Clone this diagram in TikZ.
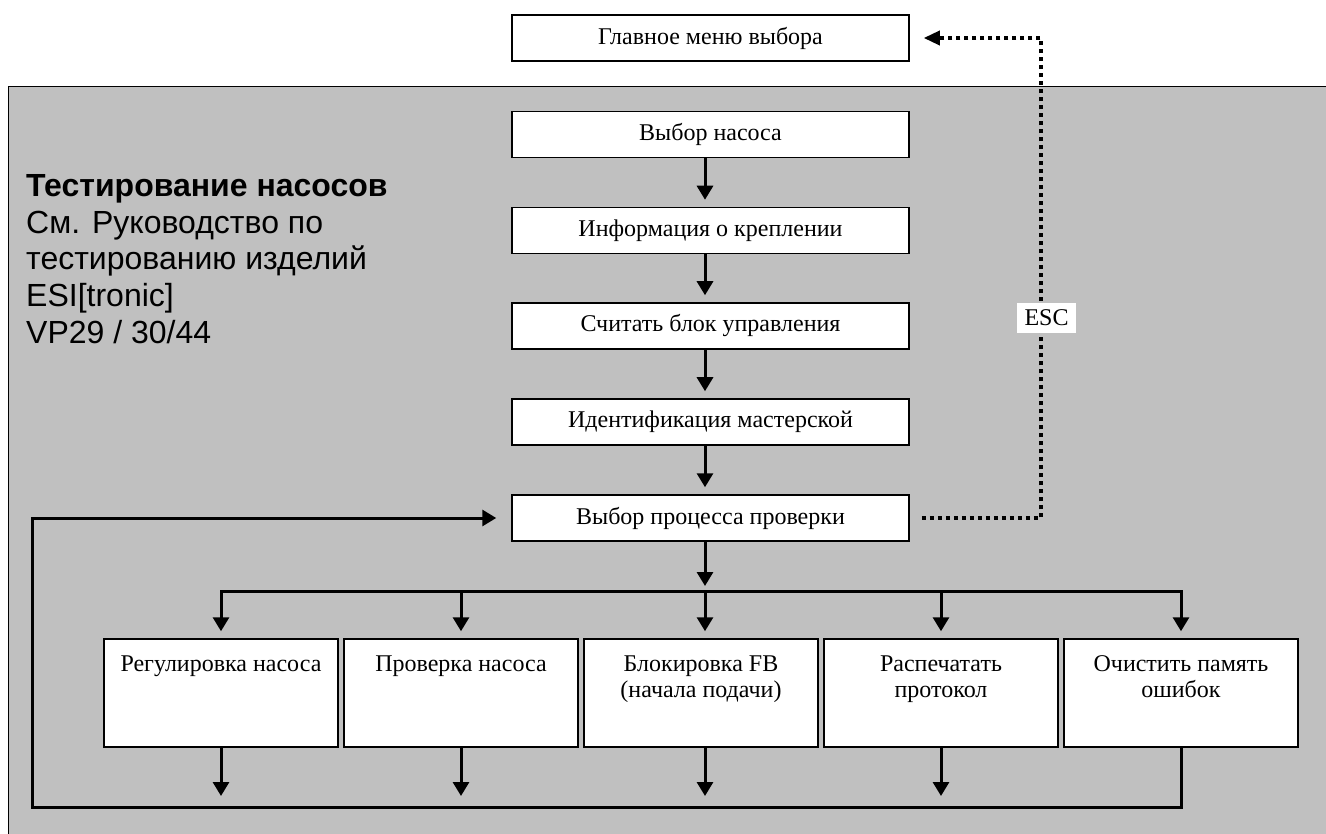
\documentclass[tikz,border=0pt]{standalone}
\usepackage{fontspec}
\setmainfont{Liberation Serif}
\newfontfamily\arialf{Liberation Sans}
\usetikzlibrary{arrows.meta,calc}
\definecolor{panelgray}{RGB}{192,192,192}
\begin{document}
\begin{tikzpicture}[x=1pt,y=-1pt,
  mbox/.style={draw=black,line width=1.5pt,fill=white,minimum width=397pt,minimum height=46pt,inner sep=0pt,font=\fontsize{24}{27}\selectfont},
  sbox/.style={draw=black,line width=1.5pt,fill=white,minimum width=234pt,minimum height=108pt,inner sep=0pt},
  stext/.style={anchor=north,align=center,inner sep=0pt,font=\fontsize{24}{26.5}\selectfont},
  flow/.style={line width=3pt,-{Triangle[width=16pt,length=14pt]}},
  flowline/.style={line width=3pt},
  escline/.style={line width=3.5pt,dash pattern=on 4pt off 4pt,-{Triangle[width=14pt,length=16pt]}},
  esclabel/.style={fill=white,inner sep=0pt,minimum width=59pt,minimum height=30pt,font=\fontsize{24}{27}\selectfont},
  titletext/.style={anchor=north west,align=left,inner sep=0pt,font=\arialf\fontsize{32}{36.8}\selectfont},
]
\clip (0,0) rectangle (1326,834);
\fill[white] (0,0) rectangle (1326,834);
\draw[fill=panelgray,line width=1pt] (8,87) rectangle (1340,850);

\node[titletext] (title) at (26,174) {\textbf{Тестирование насосов}\\См. Руководство по\\тестированию изделий\\ESI[tronic]\\VP29 / 30/44};

\node[mbox] (menu) at (710.5,38) {Главное меню выбора};
\node[mbox] (b1) at (710.5,134.5) {Выбор насоса};
\node[mbox] (b2) at (710.5,230.5) {Информация о креплении};
\node[mbox] (b3) at (710.5,326) {Считать блок управления};
\node[mbox] (b4) at (710.5,422) {Идентификация мастерской};
\node[mbox] (b5) at (710.5,518) {Выбор процесса проверки};

\node[sbox] (c1) at (221,693) {};
\node[sbox] (c2) at (461,693) {};
\node[sbox] (c3) at (701,693) {};
\node[sbox] (c4) at (941,693) {};
\node[sbox] (c5) at (1181,693) {};
\node[stext] (t1) at ([yshift=-17pt]c1.north) {Регулировка насоса};
\node[stext] (t2) at ([yshift=-17pt]c2.north) {Проверка насоса};
\node[stext] (t3) at ([yshift=-17pt]c3.north) {Блокировка FB\\(начала подачи)};
\node[stext] (t4) at ([yshift=-17pt]c4.north) {Распечатать\\протокол};
\node[stext] (t5) at ([yshift=-17pt]c5.north) {Очистить память\\ошибок};

\coordinate (ax) at (705,0);
\coordinate (bus) at (0,591);
\coordinate (loopy) at (0,807);
\coordinate (lp) at (32,807);
\coordinate (escx) at (1041,0);

\draw[flow,shorten >=7pt] (b1.south -| ax) -- (b2.north -| ax);
\draw[flow,shorten >=7pt] (b2.south -| ax) -- (b3.north -| ax);
\draw[flow,shorten >=7pt] (b3.south -| ax) -- (b4.north -| ax);
\draw[flow,shorten >=7pt] (b4.south -| ax) -- (b5.north -| ax);
\draw[flow,shorten >=5pt] (b5.south -| ax) -- (ax |- bus);

\draw[flow,shorten >=7pt] (ax |- bus) -- (c1.north |- bus) -- (c1.north);
\draw[flow,shorten >=7pt] (ax |- bus) -- (c5.north |- bus) -- (c5.north);
\draw[flow,shorten >=7pt] (c2.north |- bus) -- (c2.north);
\draw[flow,shorten >=7pt] (ax |- bus) -- (ax |- c3.north);
\draw[flow,shorten >=7pt] (c4.north |- bus) -- (c4.north);

\draw[flow,shorten >=11pt] (c1.south) -- (c1.south |- loopy);
\draw[flow,shorten >=11pt] (c2.south) -- (c2.south |- loopy);
\draw[flow,shorten >=11pt] (c3.south -| ax) -- (ax |- loopy);
\draw[flow,shorten >=11pt] (c4.south) -- (c4.south |- loopy);
\draw[flow,shorten >=15pt] (c5.south) -- (c5.south |- loopy) -- (lp) -- (lp |- b5.west) -- (b5.west);

\draw[escline,shorten <=12pt,shorten >=14pt] (b5.east) -- (b5.east -| escx) -- (escx |- menu.east) -- (menu.east);
\node[esclabel] (esc) at (1046.5,318) {ESC};
\end{tikzpicture}
\end{document}
